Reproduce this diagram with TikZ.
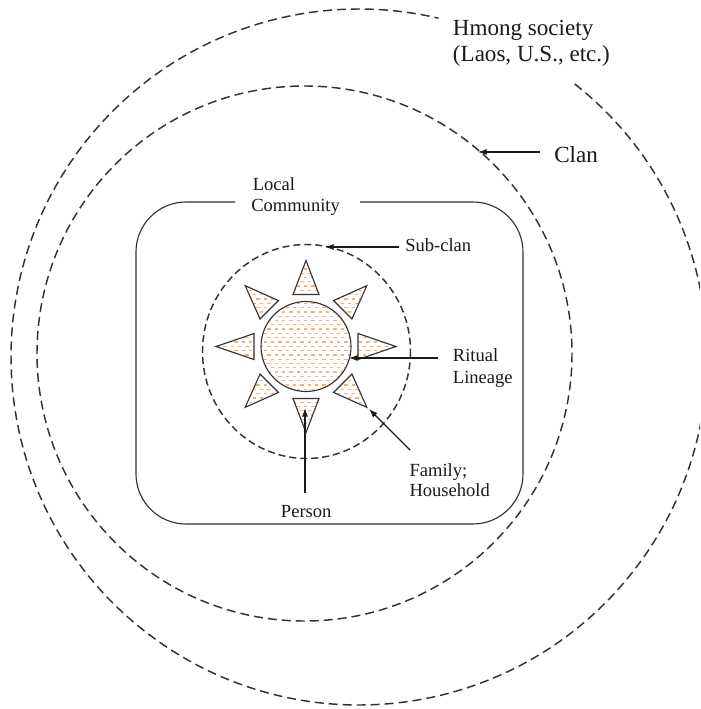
\documentclass[tikz,border=0pt]{standalone}
\usepackage{fontspec}
\setmainfont{Liberation Serif}
\usetikzlibrary{arrows.meta,calc}

\definecolor{ink}{HTML}{1A1A1A}
\definecolor{rim}{HTML}{333333}
\definecolor{dashfill}{RGB}{245,178,118}

\begin{document}
\begin{tikzpicture}[x=0.75pt,y=-0.75pt,
  ring/.style={draw=rim, line width=1.1pt, dash pattern=on 6.75pt off 3.75pt},
  subring/.style={draw=rim, line width=1.1pt, dash pattern=on 5.25pt off 3pt},
  frame/.style={draw=rim, line width=0.85pt, rounded corners=37.5pt},
  outline/.style={draw=rim, line width=0.85pt},
  hatch/.style={draw=dashfill, line width=0.95pt, dash pattern=on 2.6pt off 2.9pt},
  ptr/.style={draw=ink, line width=0.85pt, -{Latex[length=6.5pt,width=4.6pt]}},
  lbl/.style={anchor=base west, inner sep=0pt, text=ink},
  small/.style={lbl, font=\fontsize{13.9}{16}\selectfont},
  big/.style={lbl, font=\fontsize{17.3}{20}\selectfont}]

\clip (0,0) rectangle (700,709);
\fill[white] (0,0) rectangle (700,709);

% Hmong society: open ring with a gap for its label
\draw[ring] (359,357) ++(-51.7:348) arc[start angle=-51.7, end angle=283.2, radius=348];
% Clan ring
\draw[ring] (304.5,353.5) circle[radius=267.5];

% Local community frame, open at the top for its label
\draw[frame] (360,202) -- (523,202) -- (523,524) -- (136,524) -- (136,202) -- (235,202);

% Sub-clan ring
\draw[subring] (306.5,351.5) ellipse[x radius=104, y radius=107];

% Ritual lineage and the households around it
\coordinate (core) at (306,346.5);
\def\petals{0/90, 45/86, 90/86, 135/86, 180/90, 225/86, 270/86, 315/86}
\begin{scope}
  \clip (core) circle[radius=45]
    foreach \a/\tip in \petals {
      ($(core)+(\a:52)+(\a+90:13)$) -- ($(core)+(\a:52)+(\a-90:13)$)
      -- ($(core)+(\a:\tip)$) -- cycle };
  \foreach \k in {0,...,44}{
    \pgfmathsetmacro{\yy}{256+4.3*\k}
    \pgfmathsetmacro{\ph}{mod(\k,2)*2.75}
    \draw[hatch, dash phase=\ph pt] (205,\yy) -- (410,\yy);
  }
\end{scope}
\draw[outline] (core) circle[radius=45];
\foreach \a/\tip in \petals {
  \draw[outline] ($(core)+(\a:52)+(\a+90:13)$) -- ($(core)+(\a:52)+(\a-90:13)$)
    -- ($(core)+(\a:\tip)$) -- cycle;
}

% labels
\node[big] (hmongA) at (452.7,36) {Hmong society};
\node[big] (hmongB) at (452.7,61.7) {(Laos, U.S., etc.)};
\node[big] (clanLbl) at (554,163) {Clan};
\node[small] (localA) at (252.5,190.7) {Local};
\node[small] (localB) at (251,211.7) {Community};
\node[small] (subLbl) at (405,251.5) {Sub-clan};
\node[small] (ritA) at (452.7,361.7) {Ritual};
\node[small] (ritB) at (452.7,383) {Lineage};
\node[small] (famA) at (409.3,476.3) {Family;};
\node[small] (famB) at (409.3,496.7) {Household};
\node[small] (personLbl) at (280.7,517.7) {Person};

% pointer ends
\coordinate (clanFrom) at (540,152);
\coordinate (clanTo) at (478,152);
\coordinate (subFrom) at (399,247);
\coordinate (subTo) at (325,247);
\coordinate (ritFrom) at (438,358);
\coordinate (ritTo) at (349,358);
\coordinate (famFrom) at (410,450);
\coordinate (famTo) at (369,409);
\coordinate (personFrom) at (305,493);
\coordinate (personTo) at (305,408);

\draw[ptr] (clanFrom) -- (clanTo);
\draw[ptr] (subFrom) -- (subTo);
\draw[ptr] (ritFrom) -- (ritTo);
\draw[ptr] (famFrom) -- (famTo);
\draw[ptr] (personFrom) -- (personTo);
\end{tikzpicture}
\end{document}
